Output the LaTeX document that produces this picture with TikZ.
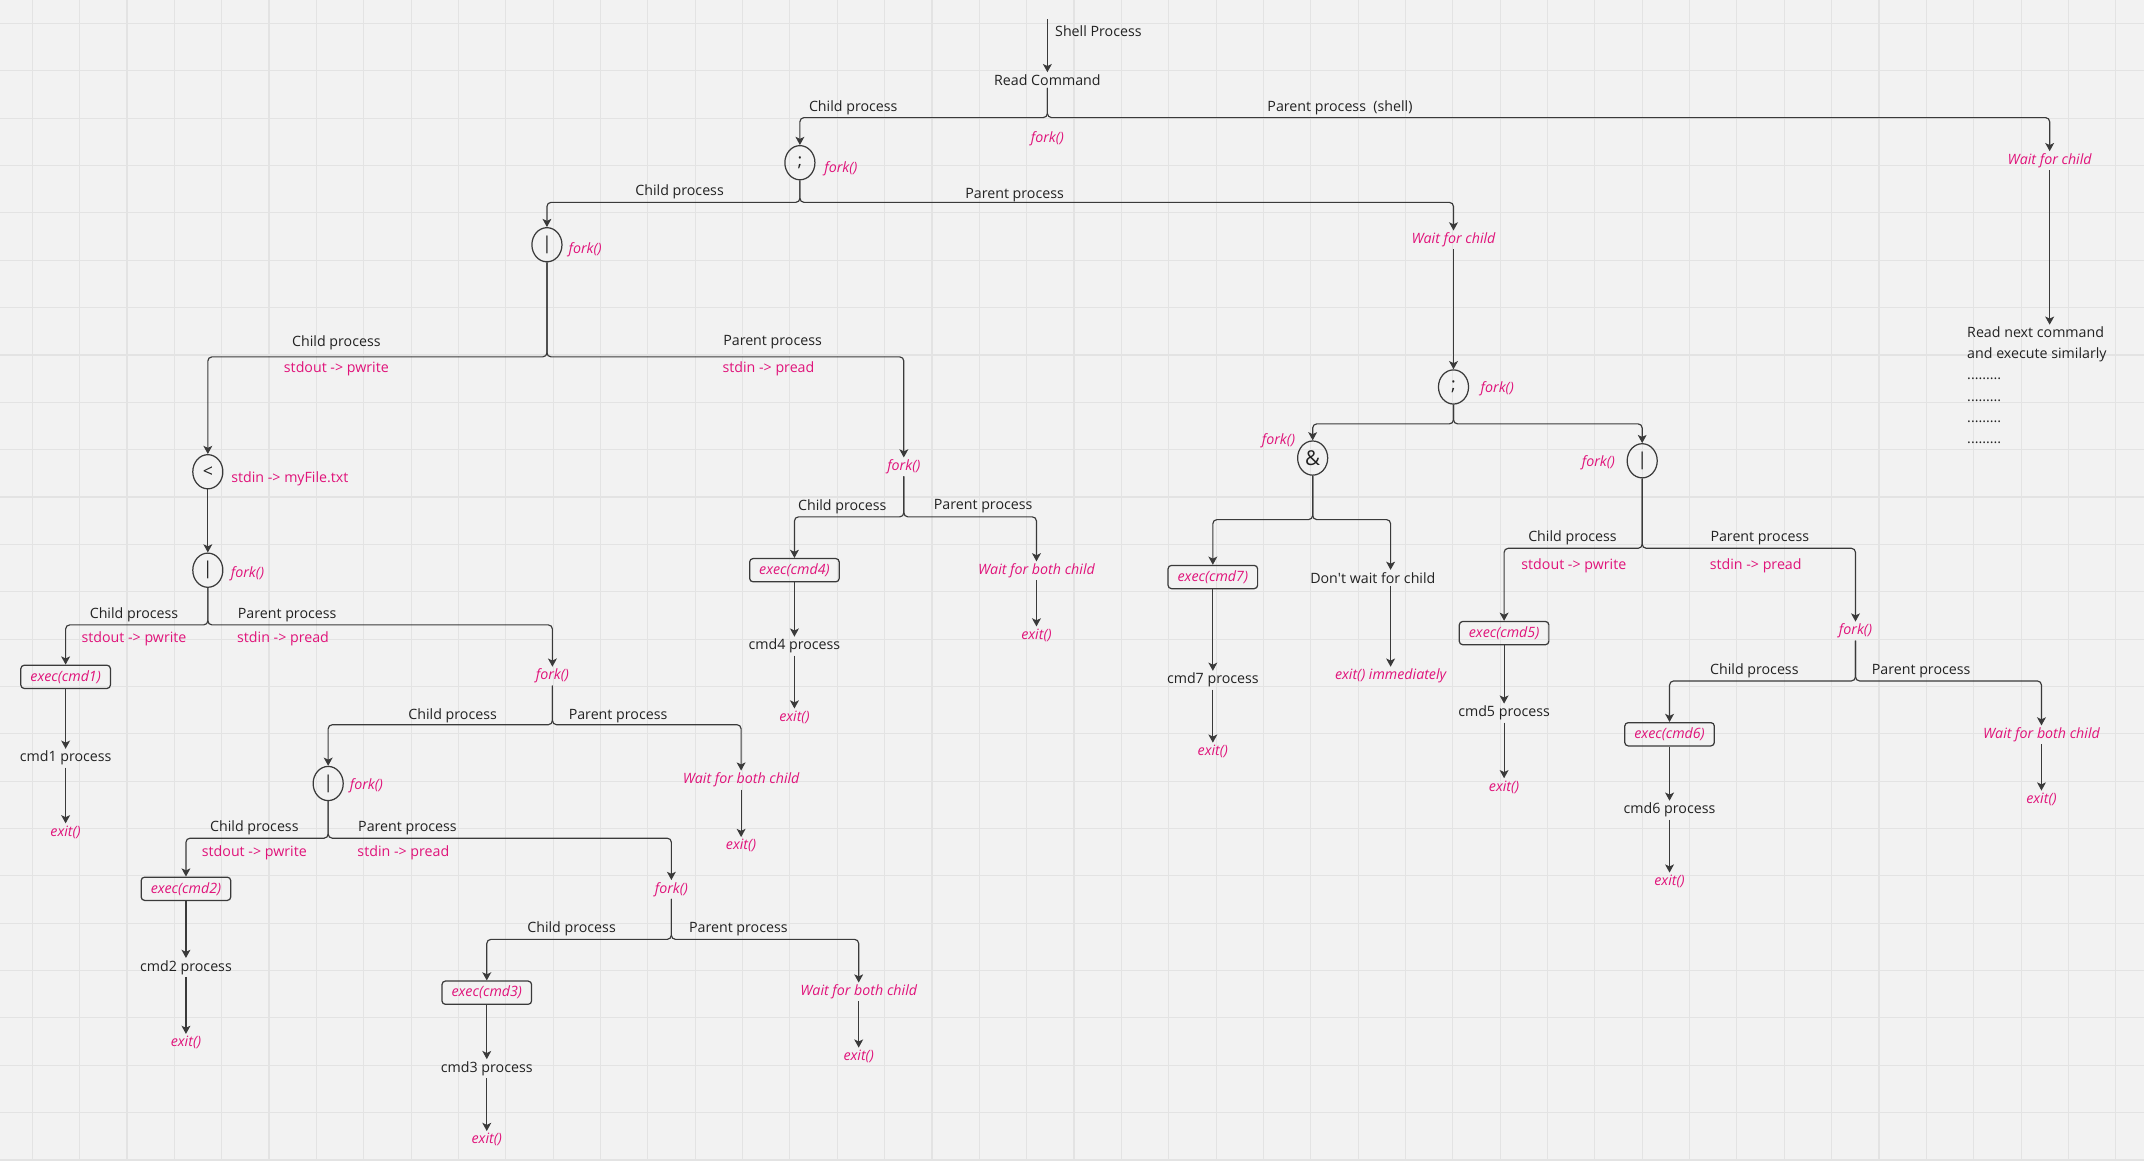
\documentclass[tikz,border=0pt]{standalone}
\usepackage{fontspec}
\setmainfont{Open Sans}
\usetikzlibrary{arrows.meta,shapes.geometric}
\definecolor{bgc}{HTML}{F2F2F2}
\definecolor{gridc}{HTML}{E3E3E3}
\definecolor{linec}{HTML}{3A3A3A}
\definecolor{txtc}{HTML}{222222}
\definecolor{pinkc}{HTML}{E0137A}
\begin{document}
\begin{tikzpicture}[x=1pt,y=-1pt,
  every node/.style={font=\fontsize{10.4}{13}\selectfont, inner sep=1.5pt},
  lbl/.style={text=txtc, yshift=-1.5pt},
  pk/.style={text=pinkc, yshift=-1.5pt},
  pki/.style={text=pinkc, yshift=-1.5pt, font=\fontsize{10.4}{13}\selectfont\itshape},
  op/.style={ellipse, draw=linec, line width=0.9pt, minimum width=22pt, minimum height=25pt,
    inner sep=0pt, text=txtc, font=\fontsize{13}{15}\selectfont},
  exbox/.style={draw=linec, line width=0.9pt, rounded corners=2.5pt, inner xsep=7pt,
    minimum height=17pt, inner ysep=0pt, text=pinkc, font=\fontsize{10.4}{13}\selectfont\itshape},
  conn/.style={draw=linec, line width=0.85pt, rounded corners=3pt,
    -{Stealth[length=6pt,width=6.5pt,inset=1.5pt]}}]

% canvas and grid
\useasboundingbox (0,0) rectangle (1568,849);
\fill[bgc] (0,0) rectangle (1568,849);
\foreach \k in {0,...,45} \draw[gridc, line width=0.8pt] ({23.6+34.63*\k},0) -- ({23.6+34.63*\k},849);
\foreach \k in {0,...,24} \draw[gridc, line width=0.8pt] (0,{17.2+34.63*\k}) -- (1568,{17.2+34.63*\k});

% ---------- top: shell ----------
\coordinate (top) at (766,14);
\node[lbl, anchor=west] (shp) at (770,21) {Shell Process};
\node[lbl] (rc) at (766,57) {Read Command};
\coordinate (j1) at (766,86);
\node[lbl] (l1a) at (624,77) {Child process};
\node[lbl] (l1b) at (980,77) {Parent process~ (shell)};
\node[pki] (fk0) at (766,100) {fork()};
\node[op] (s1) at (585,119) {;};
\node[pki] (fs1) at (615,122) {fork()};
\node[pki] (w1) at (1499,116) {Wait for child};
\node[lbl, anchor=north west, align=left, font=\fontsize{10.4}{15.4}\selectfont] (rn) at (1437,236)
  {Read next command\\and execute similarly\\.........\\.........\\.........\\.........};

\draw[conn] (top) -- (rc);
\draw[conn] (rc) -- (j1) -| (s1);
\draw[conn] (rc) -- (j1) -| (w1);
\draw[conn] (w1) -- (w1 |- rn.north);

% ---------- first ';' ----------
\coordinate (j2) at (585,148);
\node[lbl] (l2a) at (497,139) {Child process};
\node[lbl] (l2b) at (742,141) {Parent process};
\node[op] (p1) at (400,179) {|};
\node[pki] (fp1) at (428,181) {fork()};
\node[pki] (w2) at (1063,174) {Wait for child};
\draw[conn] (s1) -- (j2) -| (p1);
\draw[conn] (s1) -- (j2) -| (w2);

% ---------- first pipe ----------
\coordinate (j3) at (400,261);
\node[lbl] (l3a) at (246,249) {Child process};
\node[pk] (l3b) at (246,268) {stdout -> pwrite};
\node[lbl] (l3c) at (565,249) {Parent process};
\node[pk] (l3d) at (562,268) {stdin -> pread};
\node[op] (lt) at (152,345) {<};
\node[pk] (rdl) at (212,349) {stdin -> myFile.txt};
\node[pki] (f1) at (661,340) {fork()};
\draw[conn] (p1) -- (j3) -| (lt);
\draw[conn] (p1) -- (j3) -| (f1);

% ---------- redirect then pipe ----------
\node[op] (p2) at (152,417) {|};
\node[pki] (fp2) at (181,418) {fork()};
\draw[conn] (lt) -- (p2);
\coordinate (j5) at (152,457);
\node[lbl] (l5a) at (98,448) {Child process};
\node[pk] (l5b) at (98,466) {stdout -> pwrite};
\node[lbl] (l5c) at (210,448) {Parent process};
\node[pk] (l5d) at (207,466) {stdin -> pread};
\node[exbox] (e1) at (48,495) {exec(cmd1)};
\node[pki] (f2) at (404,493) {fork()};
\draw[conn] (p2) -- (j5) -| (e1);
\draw[conn] (p2) -- (j5) -| (f2);
\node[lbl] (c1) at (48,553) {cmd1 process};
\node[pki] (x1) at (48,607) {exit()};
\draw[conn] (e1) -- (c1);
\draw[conn] (c1) -- (x1);

% ---------- fork for second stage ----------
\coordinate (j6) at (404,530);
\node[lbl] (l6a) at (331,522) {Child process};
\node[lbl] (l6b) at (452,522) {Parent process};
\node[op] (p3) at (240,573) {|};
\node[pki] (fp3) at (268,573) {fork()};
\node[pki] (wb1) at (542,569) {Wait for both child};
\node[pki] (xb1) at (542,617) {exit()};
\draw[conn] (f2) -- (j6) -| (p3);
\draw[conn] (f2) -- (j6) -| (wb1);
\draw[conn] (wb1) -- (xb1);

\coordinate (j7) at (240,613);
\node[lbl] (l7a) at (186,604) {Child process};
\node[pk] (l7b) at (186,622) {stdout -> pwrite};
\node[lbl] (l7c) at (298,604) {Parent process};
\node[pk] (l7d) at (295,622) {stdin -> pread};
\node[exbox] (e2) at (136,650) {exec(cmd2)};
\node[pki] (f3) at (491,649) {fork()};
\draw[conn] (p3) -- (j7) -| (e2);
\draw[conn] (p3) -- (j7) -| (f3);
\node[lbl] (c2) at (136,706) {cmd2 process};
\node[pki] (x2) at (136,761) {exit()};
\draw[conn] (e2) -- (c2);
\draw[conn] (c2) -- (x2);

\coordinate (j8) at (491,687);
\node[lbl] (l8a) at (418,678) {Child process};
\node[lbl] (l8b) at (540,678) {Parent process};
\node[exbox] (e3) at (356,726) {exec(cmd3)};
\node[pki] (wb2) at (628,724) {Wait for both child};
\draw[conn] (f3) -- (j8) -| (e3);
\draw[conn] (f3) -- (j8) -| (wb2);
\node[lbl] (c3) at (356,780) {cmd3 process};
\node[pki] (x3) at (356,832) {exit()};
\node[pki] (xb2) at (628,771) {exit()};
\draw[conn] (e3) -- (c3);
\draw[conn] (c3) -- (x3);
\draw[conn] (wb2) -- (xb2);

% ---------- cmd4 ----------
\coordinate (j9) at (661,378);
\node[lbl] (l9a) at (616,369) {Child process};
\node[lbl] (l9b) at (719,369) {Parent process};
\node[exbox] (e4) at (581,417) {exec(cmd4)};
\node[pki] (wb3) at (758,416) {Wait for both child};
\draw[conn] (f1) -- (j9) -| (e4);
\draw[conn] (f1) -- (j9) -| (wb3);
\node[lbl] (c4) at (581,471) {cmd4 process};
\node[pki] (x4) at (581,523) {exit()};
\node[pki] (xb3) at (758,463) {exit()};
\draw[conn] (e4) -- (c4);
\draw[conn] (c4) -- (x4);
\draw[conn] (wb3) -- (xb3);

% ---------- second ';' ----------
\node[op] (s2) at (1063,283) {;};
\node[pki] (fs2) at (1095,283) {fork()};
\draw[conn] (w2) -- (s2);
\coordinate (j11) at (1063,310);
\node[op, font=\fontsize{15}{17}\selectfont] (amp) at (960,335) {\&};
\node[pki] (famp) at (935,321) {fork()};
\node[op] (p4) at (1201,337) {|};
\node[pki] (fp4) at (1169,337) {fork()};
\draw[conn] (s2) -- (j11) -| (amp);
\draw[conn] (s2) -- (j11) -| (p4);

% ---------- background job ----------
\coordinate (j12) at (960,380);
\node[exbox] (e7) at (887,422) {exec(cmd7)};
\node[lbl] (dw) at (1004,421) {Don\textquotesingle t wait for child};
\node[pki] (de) at (1017,493) {exit() immediately};
\draw[conn] (amp) -- (j12) -| (e7);
\draw[conn] (amp) -- (j12) -| (dw.north -| de);
\draw[conn] (dw.south -| de) -- (de);
\node[lbl] (c7) at (887,496) {cmd7 process};
\node[pki] (x7) at (887,548) {exit()};
\draw[conn] (e7) -- (c7);
\draw[conn] (c7) -- (x7);

% ---------- last pipe ----------
\coordinate (j13) at (1201,401);
\node[lbl] (l13a) at (1150,392) {Child process};
\node[pk] (l13b) at (1151,412) {stdout -> pwrite};
\node[lbl] (l13c) at (1287,392) {Parent process};
\node[pk] (l13d) at (1284,412) {stdin -> pread};
\node[exbox] (e5) at (1100,463) {exec(cmd5)};
\node[pki] (f4) at (1357,460) {fork()};
\draw[conn] (p4) -- (j13) -| (e5);
\draw[conn] (p4) -- (j13) -| (f4);
\node[lbl] (c5) at (1100,520) {cmd5 process};
\node[pki] (x5) at (1100,574) {exit()};
\draw[conn] (e5) -- (c5);
\draw[conn] (c5) -- (x5);

\coordinate (j14) at (1357,498);
\node[lbl] (l14a) at (1283,489) {Child process};
\node[lbl] (l14b) at (1405,489) {Parent process};
\node[exbox] (e6) at (1221,537) {exec(cmd6)};
\node[pki] (wb4) at (1493,536) {Wait for both child};
\draw[conn] (f4) -- (j14) -| (e6);
\draw[conn] (f4) -- (j14) -| (wb4);
\node[lbl] (c6) at (1221,591) {cmd6 process};
\node[pki] (x6) at (1221,643) {exit()};
\node[pki] (xb4) at (1493,583) {exit()};
\draw[conn] (e6) -- (c6);
\draw[conn] (c6) -- (x6);
\draw[conn] (wb4) -- (xb4);
\end{tikzpicture}
\end{document}
